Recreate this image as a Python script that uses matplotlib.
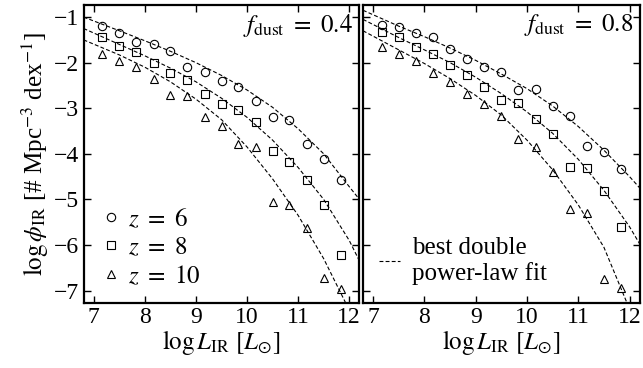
import matplotlib
matplotlib.use("Agg")
import matplotlib.pyplot as plt
import numpy as np

plt.rcParams["font.family"] = "serif"
plt.rcParams["font.serif"] = ["Liberation Serif", "DejaVu Serif"]
plt.rcParams["mathtext.fontset"] = "stix"

# luminosity bins (log L_IR)
logL = [7.17, 7.5, 7.83, 8.17, 8.5, 8.83, 9.17, 9.5, 9.83, 10.17, 10.5, 10.83, 11.17, 11.5, 11.83]

# f_dust = 0.4
phi_04_z6 = [-1.20, -1.34, -1.54, -1.58, -1.74, -2.09, -2.20, -2.40, -2.54, -2.84, -3.20, -3.26, -3.78, -4.12, -4.57]
phi_04_z8 = [-1.43, -1.63, -1.76, -2.00, -2.22, -2.38, -2.69, -2.90, -3.04, -3.31, -3.93, -4.19, -4.58, -5.13, -6.23]
phi_04_z10 = [-1.80, -1.97, -2.09, -2.36, -2.70, -2.74, -3.20, -3.38, -3.78, -3.84, -5.06, -5.13, -5.62, -6.73, -6.96]

# f_dust = 0.8
phi_08_z6 = [-1.18, -1.21, -1.36, -1.44, -1.69, -1.93, -2.10, -2.20, -2.61, -2.58, -2.96, -3.18, -3.82, -3.97, -4.33]
phi_08_z8 = [-1.32, -1.43, -1.65, -1.80, -2.05, -2.27, -2.53, -2.82, -2.89, -3.23, -3.57, -4.30, -4.31, -4.82, -5.61]
phi_08_z10 = [-1.65, -1.82, -1.96, -2.23, -2.42, -2.69, -2.91, -3.18, -3.68, -3.86, -4.40, -5.20, -5.30, -6.74, -6.95]

# double power-law fits
fit_x = [6.8, 7.5, 8.0, 8.5, 9.0, 9.5, 10.0, 10.5, 11.0, 11.5, 12.0, 12.2]
fit_04_z6 = [-1.00, -1.30, -1.52, -1.75, -2.00, -2.28, -2.60, -2.98, -3.45, -4.00, -4.72, -5.00]
fit_04_z8 = [-1.25, -1.60, -1.85, -2.12, -2.42, -2.78, -3.20, -3.70, -4.30, -5.00, -5.90, -6.35]
fit_08_z6 = [-0.85, -1.20, -1.43, -1.68, -1.95, -2.25, -2.57, -2.95, -3.40, -3.92, -4.50, -4.75]
fit_08_z8 = [-1.05, -1.45, -1.72, -2.00, -2.32, -2.68, -3.08, -3.55, -4.12, -4.80, -5.60, -5.98]
fit_x10_04 = [6.8, 7.5, 8.0, 8.5, 9.0, 9.5, 10.0, 10.5, 11.0, 11.5, 11.93]
fit_04_z10 = [-1.50, -1.83, -2.10, -2.42, -2.80, -3.25, -3.85, -4.55, -5.35, -6.30, -7.27]
fit_x10_08 = [6.8, 7.5, 8.0, 8.5, 9.0, 9.5, 10.0, 10.5, 11.0, 11.5, 11.95]
fit_08_z10 = [-1.30, -1.72, -2.02, -2.35, -2.72, -3.15, -3.70, -4.35, -5.12, -6.05, -7.27]

fdust = ["0.4", "0.8"]
redshifts = ["6", "8", "10"]
markers = ["o", "s", "^"]

fig = plt.figure(figsize=(6.43, 3.68), dpi=100)
ax1 = fig.add_axes([0.130, 0.177, 0.4290, 0.810])
ax2 = fig.add_axes([0.5645, 0.177, 0.4305, 0.810])

panels = [
    (ax1, [phi_04_z6, phi_04_z8, phi_04_z10],
     [(fit_x, fit_04_z6), (fit_x, fit_04_z8), (fit_x10_04, fit_04_z10)]),
    (ax2, [phi_08_z6, phi_08_z8, phi_08_z10],
     [(fit_x, fit_08_z6), (fit_x, fit_08_z8), (fit_x10_08, fit_08_z10)]),
]

for i, (ax, data, fits) in enumerate(panels):
    for (fx, fy) in fits:
        ax.plot(fx, fy, ls=(0, (3.5, 2)), color="k", lw=0.8)
    for j, d in enumerate(data):
        ax.plot(logL, d, ls="none", marker=markers[j], ms=6, mfc="none",
                mec="k", mew=0.8, label=r"$z\ =\ %s$" % redshifts[j])
    ax.set_xlim(6.8, 12.2)
    ax.set_ylim(-7.27, -0.73)
    ax.set_xticks([7, 8, 9, 10, 11, 12])
    ax.set_yticks([-1, -2, -3, -4, -5, -6, -7])
    ax.tick_params(direction="in", top=True, right=True, length=5, width=1,
                   labelsize=17, pad=3)
    for s in ax.spines.values():
        s.set_linewidth(1.6)
    ax.set_xlabel(r"$\log L_{\rm IR}\ [L_{\odot}]$", fontsize=18, labelpad=0)
    ax.text(0.975, 0.975, r"$f_{\rm dust}\ =\ %s$" % fdust[i], transform=ax.transAxes,
            ha="right", va="top", fontsize=18)

ax2.tick_params(labelleft=False)
ax1.set_ylabel(r"$\log \phi_{\rm IR}$ [# Mpc$^{-3}$ dex$^{-1}$]", fontsize=18, labelpad=2)

ax1.legend(loc="lower left", frameon=False, fontsize=18, handlelength=0.6,
           handletextpad=0.4, labelspacing=0.22, borderaxespad=0.0,
           bbox_to_anchor=(0.035, 0.017))

ax2.plot([], [], ls=(0, (3.5, 2)), color="k", lw=0.8,
         label="best double\npower-law fit")
h, l = ax2.get_legend_handles_labels()
ax2.legend(h[-1:], l[-1:], loc="lower left", frameon=False, fontsize=18,
           handlelength=0.85, handletextpad=0.5, borderaxespad=0.0,
           bbox_to_anchor=(0.02, 0.025))

fig.savefig("out.png", dpi=100)
